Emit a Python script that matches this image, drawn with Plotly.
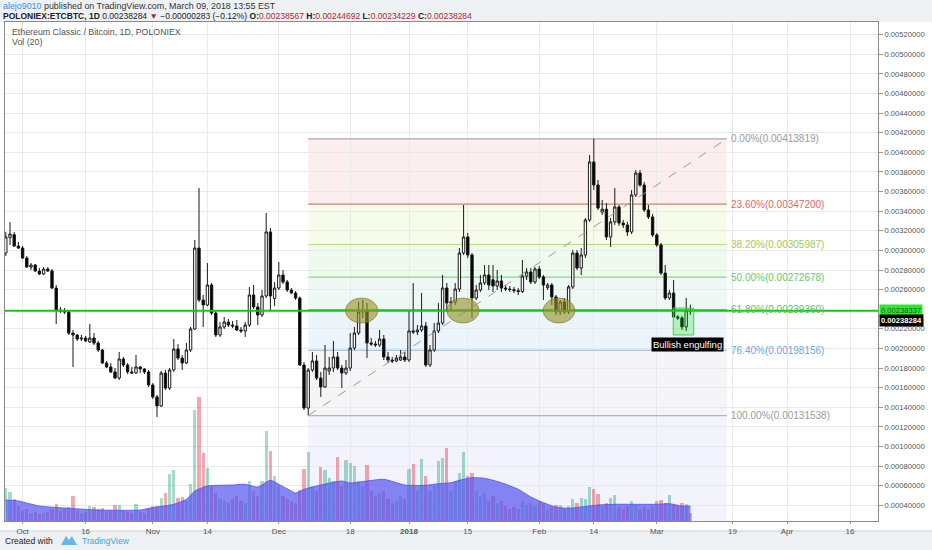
import pandas as pd
import plotly.graph_objects as go

# ---------------- data ----------------
dates = pd.date_range("2017-09-27", "2018-03-09", freq="D")

open_ = [
    0.002973, 0.003130, 0.003160, 0.003045, 0.003024, 0.002922, 0.002830, 0.002851, 0.002790, 0.002759,
    0.002810, 0.002790, 0.002616, 0.002392, 0.002382, 0.002372, 0.002157, 0.002137, 0.002096, 0.002106,
    0.002066, 0.002106, 0.002055, 0.001984, 0.001851, 0.001811, 0.001760, 0.001698, 0.001892, 0.001831,
    0.001760, 0.001750, 0.001811, 0.001790, 0.001760, 0.001627, 0.001505, 0.001413, 0.001749, 0.001596,
    0.001780, 0.001994, 0.001902, 0.001851, 0.001984, 0.002198, 0.003024, 0.002494, 0.002443, 0.002647,
    0.002361, 0.002137, 0.002219, 0.002270, 0.002239, 0.002229, 0.002188, 0.002178, 0.002239, 0.002545,
    0.002423, 0.002341, 0.002535, 0.003188, 0.002510, 0.002616, 0.002749, 0.002678, 0.002596, 0.002565,
    0.002514, 0.001831, 0.001392, 0.001780, 0.001872, 0.001698, 0.001607, 0.001770, 0.001800, 0.001913,
    0.001800, 0.001749, 0.001800, 0.002004, 0.002157, 0.002372, 0.002382, 0.002055, 0.002045, 0.002035,
    0.002096, 0.001913, 0.001882, 0.001872, 0.001882, 0.001913, 0.001882, 0.002178, 0.002168, 0.002188,
    0.002229, 0.001831, 0.001984, 0.002178, 0.002259, 0.002616, 0.002463, 0.002474, 0.002606, 0.002973,
    0.003137, 0.002953, 0.002514, 0.002596, 0.002667, 0.002749, 0.002700, 0.002637, 0.002688, 0.002616,
    0.002606, 0.002600, 0.002590, 0.002580, 0.002739, 0.002780, 0.002678, 0.002810, 0.002729, 0.002620,
    0.002647, 0.002525, 0.002372, 0.002474, 0.002372, 0.002627, 0.002973, 0.002820, 0.002953, 0.003310,
    0.003902, 0.003667, 0.003390, 0.003420, 0.003137, 0.003290, 0.003443, 0.003279, 0.003259, 0.003188,
    0.003565, 0.003789, 0.003667, 0.003412, 0.003341, 0.003157, 0.003055, 0.002769, 0.002514, 0.002565,
    0.002321, 0.002310, 0.002219, 0.00238567,
]
high = [
    0.003188, 0.003290, 0.003188, 0.003086, 0.003045, 0.002943, 0.002871, 0.002861, 0.002820, 0.002830,
    0.002830, 0.002810, 0.002647, 0.002423, 0.002412, 0.002392, 0.002188, 0.002147, 0.002137, 0.002127,
    0.002249, 0.002157, 0.002076, 0.001994, 0.001872, 0.001851, 0.001800, 0.001964, 0.001913, 0.001851,
    0.001811, 0.001933, 0.001821, 0.001800, 0.001780, 0.001647, 0.001525, 0.001770, 0.001780, 0.001800,
    0.002096, 0.002045, 0.001933, 0.002055, 0.002219, 0.003106, 0.003636, 0.002545, 0.002871, 0.002667,
    0.002382, 0.002270, 0.002321, 0.002300, 0.002280, 0.002290, 0.002219, 0.002270, 0.002627, 0.002647,
    0.002463, 0.002596, 0.003381, 0.003228, 0.002678, 0.002882, 0.002800, 0.002698, 0.002616, 0.002586,
    0.002530, 0.001862, 0.001800, 0.001964, 0.001933, 0.001760, 0.002035, 0.001913, 0.002076, 0.001964,
    0.001831, 0.001882, 0.002157, 0.002219, 0.002474, 0.002494, 0.002463, 0.002106, 0.002076, 0.002188,
    0.002137, 0.001964, 0.001913, 0.001933, 0.001984, 0.001964, 0.002392, 0.002667, 0.002239, 0.002565,
    0.002270, 0.002035, 0.002259, 0.002463, 0.002749, 0.002667, 0.002525, 0.002667, 0.003024, 0.003463,
    0.003177, 0.002973, 0.002647, 0.002749, 0.002851, 0.002851, 0.002851, 0.002800, 0.002749, 0.002647,
    0.002637, 0.002627, 0.002616, 0.002902, 0.002820, 0.002820, 0.002830, 0.002841, 0.002749, 0.002667,
    0.002667, 0.002545, 0.002494, 0.002514, 0.002647, 0.003004, 0.003004, 0.003024, 0.003330, 0.003973,
    0.00413819, 0.003718, 0.003514, 0.003483, 0.003330, 0.003636, 0.003463, 0.003310, 0.003290, 0.003616,
    0.003820, 0.003820, 0.003698, 0.003463, 0.003371, 0.003177, 0.003075, 0.002851, 0.002596, 0.002698,
    0.002341, 0.002331, 0.002514, 0.00244692,
]
low = [
    0.002943, 0.003055, 0.003035, 0.003014, 0.002912, 0.002820, 0.002800, 0.002780, 0.002749, 0.002749,
    0.002780, 0.002606, 0.002249, 0.002361, 0.002351, 0.002137, 0.001811, 0.002076, 0.002076, 0.002066,
    0.002055, 0.002035, 0.001964, 0.001841, 0.001800, 0.001749, 0.001688, 0.001678, 0.001811, 0.001739,
    0.001739, 0.001740, 0.001749, 0.001739, 0.001607, 0.001484, 0.001301, 0.001403, 0.001576, 0.001576,
    0.001760, 0.001882, 0.001780, 0.001841, 0.001964, 0.002188, 0.002474, 0.002219, 0.002430, 0.002341,
    0.002117, 0.002117, 0.002198, 0.002219, 0.002208, 0.002178, 0.002157, 0.002117, 0.002219, 0.002402,
    0.002239, 0.002321, 0.002514, 0.002392, 0.002433, 0.002596, 0.002657, 0.002576, 0.002555, 0.002494,
    0.001821, 0.001372, 0.00131538, 0.001760, 0.001678, 0.001505, 0.001597, 0.001729, 0.001760, 0.001780,
    0.001596, 0.001729, 0.001770, 0.001984, 0.002137, 0.002310, 0.001902, 0.002025, 0.002015, 0.002015,
    0.001882, 0.001851, 0.001851, 0.001862, 0.001872, 0.001862, 0.001862, 0.002147, 0.002137, 0.002168,
    0.001811, 0.001811, 0.001964, 0.002157, 0.002239, 0.002372, 0.002392, 0.002443, 0.002576, 0.002953,
    0.002922, 0.002310, 0.002494, 0.002576, 0.002647, 0.002596, 0.002576, 0.002596, 0.002576, 0.002586,
    0.002576, 0.002565, 0.002545, 0.002565, 0.002698, 0.002657, 0.002657, 0.002708, 0.002494, 0.002596,
    0.002443, 0.002341, 0.002341, 0.002351, 0.002351, 0.002606, 0.002800, 0.002749, 0.002922, 0.003290,
    0.003616, 0.003412, 0.003361, 0.003106, 0.003035, 0.003259, 0.003249, 0.003228, 0.003147, 0.003167,
    0.003545, 0.003647, 0.003392, 0.003320, 0.003137, 0.003035, 0.002749, 0.002494, 0.002494, 0.002310,
    0.002290, 0.002188, 0.002178, 0.00234229,
]
close = [
    0.003137, 0.003167, 0.003045, 0.003024, 0.002922, 0.002830, 0.002851, 0.002790, 0.002759, 0.002810,
    0.002790, 0.002616, 0.002392, 0.002382, 0.002372, 0.002157, 0.002137, 0.002096, 0.002106, 0.002076,
    0.002106, 0.002055, 0.001984, 0.001851, 0.001811, 0.001760, 0.001698, 0.001892, 0.001831, 0.001760,
    0.001750, 0.001811, 0.001790, 0.001760, 0.001627, 0.001505, 0.001413, 0.001749, 0.001596, 0.001780,
    0.001994, 0.001902, 0.001851, 0.001984, 0.002198, 0.003024, 0.002494, 0.002443, 0.002647, 0.002361,
    0.002137, 0.002219, 0.002270, 0.002239, 0.002229, 0.002188, 0.002178, 0.002239, 0.002545, 0.002423,
    0.002341, 0.002535, 0.003188, 0.002535, 0.002616, 0.002749, 0.002678, 0.002596, 0.002565, 0.002514,
    0.001831, 0.001392, 0.001780, 0.001872, 0.001698, 0.001607, 0.001800, 0.001800, 0.001913, 0.001800,
    0.001749, 0.001800, 0.002004, 0.002157, 0.002372, 0.002382, 0.002055, 0.002045, 0.002035, 0.002096,
    0.001913, 0.001882, 0.001872, 0.001902, 0.001913, 0.001882, 0.002178, 0.002168, 0.002188, 0.002229,
    0.001831, 0.001984, 0.002178, 0.002259, 0.002616, 0.002463, 0.002474, 0.002606, 0.002973, 0.003137,
    0.002953, 0.002514, 0.002596, 0.002667, 0.002749, 0.002647, 0.002637, 0.002688, 0.002616, 0.002606,
    0.002600, 0.002590, 0.002580, 0.002739, 0.002780, 0.002678, 0.002810, 0.002729, 0.002647, 0.002647,
    0.002525, 0.002372, 0.002474, 0.002372, 0.002627, 0.002973, 0.002820, 0.002953, 0.003310, 0.003902,
    0.003667, 0.003432, 0.003420, 0.003137, 0.003290, 0.003443, 0.003279, 0.003259, 0.003188, 0.003565,
    0.003789, 0.003667, 0.003412, 0.003341, 0.003157, 0.003055, 0.002769, 0.002514, 0.002565, 0.002321,
    0.002310, 0.002219, 0.00238567, 0.00238284,
]
volume = [
    330, 290, 220, 150, 100, 120, 80, 90, 70, 80,
    90, 120, 170, 100, 120, 140, 250, 100, 80, 90,
    150, 140, 120, 130, 100, 110, 160, 160, 100, 90,
    80, 170, 90, 80, 120, 150, 150, 230, 280, 470,
    510, 230, 240, 200, 370, 1110, 1240, 680, 530, 350,
    280, 220, 200, 180, 220, 250, 200, 180, 400, 300,
    250, 400, 900, 700, 450, 350, 250, 220, 200, 180,
    310, 520, 690, 350, 300, 540, 510, 430, 400, 640,
    350, 610, 580, 550, 400, 350, 560, 300, 250, 280,
    300, 220, 180, 200, 250, 220, 520, 570, 300, 620,
    450, 300, 350, 600, 630, 730, 300, 400, 480, 690,
    450, 480, 300, 250, 280, 200, 250, 180, 200, 150,
    120, 140, 120, 200, 160, 180, 150, 200, 180, 120,
    140, 160, 160, 120, 150, 220, 180, 230, 220, 340,
    320, 270, 150, 180, 230, 260, 140, 120, 150, 200,
    160, 120, 140, 120, 150, 200, 210, 180, 260, 170,
    160, 180, 170, 80,
]
vol_ma_dates = [
    "2017-09-27", "2017-09-30", "2017-10-05", "2017-10-12", "2017-10-19",
    "2017-10-29", "2017-10-31", "2017-11-06", "2017-11-09", "2017-11-11",
    "2017-11-14", "2017-11-20", "2017-11-23", "2017-11-26", "2017-11-29",
    "2017-12-01", "2017-12-04", "2017-12-05", "2017-12-07", "2017-12-10",
    "2017-12-16", "2017-12-18", "2017-12-22", "2017-12-26", "2017-12-31",
    "2018-01-05", "2018-01-08", "2018-01-11", "2018-01-13", "2018-01-16",
    "2018-01-19", "2018-01-23", "2018-01-27", "2018-01-30", "2018-02-02",
    "2018-02-05", "2018-02-08", "2018-02-11", "2018-02-15", "2018-02-19",
    "2018-02-24", "2018-03-01", "2018-03-04", "2018-03-07", "2018-03-09",
]
vol_ma = [
    210, 200, 150, 127, 110, 110, 127, 167, 217, 300,
    350, 360, 367, 340, 407, 367, 300, 280, 317, 350,
    400, 380, 400, 417, 360, 357, 373, 383, 407, 433,
    427, 383, 317, 240, 183, 140, 127, 140, 160, 167,
    167, 167, 173, 150, 150,
]

price_ticks = [0.0004, 0.0006, 0.0008, 0.0010, 0.0012, 0.0014, 0.0016, 0.0018, 0.0020,
               0.0022, 0.0026, 0.0028, 0.0030, 0.0032, 0.0034, 0.0036, 0.0038, 0.0040,
               0.0042, 0.0044, 0.0046, 0.0048, 0.0050, 0.0052]
date_ticks = ["2017-10-01", "2017-10-16", "2017-11-01", "2017-11-14", "2017-12-01", "2017-12-18",
              "2018-01-01", "2018-01-15", "2018-02-01", "2018-02-14", "2018-03-01", "2018-03-19",
              "2018-04-01", "2018-04-16"]
date_tick_labels = ["Oct", "16", "Nov", "14", "Dec", "18", "<b>2018</b>", "15", "Feb", "14", "Mar",
                    "19", "Apr", "16"]

fib_ratios = [0.0, 0.236, 0.382, 0.5, 0.618, 0.764, 1.0]
fib_prices = [0.00413819, 0.00347200, 0.00305987, 0.00272678, 0.00239360, 0.00198156, 0.00131538]
hline_price = 0.00238337

# ---------------- layout geometry / styles ----------------
W, H = 932, 550
ML, MR, MT, MB = 5, 54, 22, 29
PW, PH = W - ML - MR, H - MT - MB
X_RANGE = ["2017-09-26 19:26", "2018-04-22 16:00"]
Y_RANGE = [0.0002398, 0.0053295]
FONT = "Liberation Sans, Arial, sans-serif"


def px(xp):
    return (xp - ML) / PW


def py(yp):
    return (H - MB - yp) / PH


fib_start = "2017-12-08"
fib_end = "2018-03-17 16:00"
fib_line_colors = ["#a8a8a8", "#c8807a", "#bcd882", "#86d886", "#3cb95a", "#93b7d4", "#b4b4b4"]
fib_text_colors = ["#9a9a9a", "#e06868", "#a6c850", "#66cc66", "#5cbf5c", "#6aa8d8", "#9a9a9a"]
fib_fill_colors = ["rgba(240,90,90,0.10)", "rgba(190,225,90,0.13)", "rgba(120,210,120,0.12)",
                   "rgba(90,200,160,0.10)", "rgba(110,170,230,0.12)", "rgba(160,160,175,0.10)"]

fig = go.Figure()

up_col = "rgba(0,150,100,0.35)"
dn_col = "rgba(230,60,80,0.45)"
vol_colors = [up_col if c >= o else dn_col for o, c in zip(open_, close)]

fig.add_trace(go.Bar(
    x=dates, y=volume, yaxis="y2", marker=dict(color=vol_colors, line=dict(width=0)),
    width=0.72 * 86400000, hoverinfo="skip", showlegend=False))
fig.add_trace(go.Scatter(
    x=pd.to_datetime(vol_ma_dates), y=vol_ma, yaxis="y2", mode="lines",
    line=dict(color="rgba(80,80,235,0.8)", width=1, shape="spline", smoothing=0.6),
    fill="tozeroy", fillcolor="rgba(88,88,240,0.72)", hoverinfo="skip", showlegend=False))

fig.add_trace(go.Candlestick(
    x=dates, open=open_, high=high, low=low, close=close,
    increasing=dict(line=dict(color="#1a1a1a", width=1), fillcolor="#ffffff"),
    decreasing=dict(line=dict(color="#1a1a1a", width=1), fillcolor="#000000"),
    whiskerwidth=0, showlegend=False, hoverinfo="skip"))

shapes = []
# white chart panel
shapes.append(dict(type="rect", xref="paper", yref="paper", x0=px(0), x1=px(W), y0=py(531), y1=py(22),
                   fillcolor="#ffffff", line=dict(width=0), layer="below"))
# footer separator
shapes.append(dict(type="line", xref="paper", yref="paper", x0=px(0), x1=px(W), y0=py(531), y1=py(531),
                   line=dict(color="#c9ced3", width=1), layer="below"))
# fib fills
for i in range(len(fib_prices) - 1):
    shapes.append(dict(type="rect", xref="x", yref="y", x0=fib_start, x1=fib_end,
                       y0=fib_prices[i + 1], y1=fib_prices[i], fillcolor=fib_fill_colors[i],
                       line=dict(width=0), layer="below"))
shapes.append(dict(type="rect", xref="x", yref="y domain", x0=fib_start, x1=fib_end,
                   y0=0, y1=(fib_prices[-1] - Y_RANGE[0]) / (Y_RANGE[1] - Y_RANGE[0]),
                   fillcolor="rgba(120,120,230,0.09)", line=dict(width=0), layer="below"))
# fib lines
for i, p in enumerate(fib_prices):
    shapes.append(dict(type="line", xref="x", yref="y", x0=fib_start, x1=fib_end, y0=p, y1=p,
                       line=dict(color=fib_line_colors[i], width=1.2), layer="between"))
# diagonal of the fib tool
shapes.append(dict(type="line", xref="x", yref="y", x0=fib_start, x1=fib_end,
                   y0=fib_prices[-1], y1=fib_prices[0],
                   line=dict(color="#9a9a9a", width=1, dash="dash"), layer="above"))
# support line
shapes.append(dict(type="line", xref="paper", yref="y", x0=0, x1=1, y0=hline_price, y1=hline_price,
                   line=dict(color="#18c418", width=2), layer="above"))
# ellipses
for x0, x1 in [("2017-12-16 21:00", "2017-12-24 14:00"),
               ("2018-01-10 00:00", "2018-01-17 17:00"),
               ("2018-02-01 22:00", "2018-02-09 12:00")]:
    shapes.append(dict(type="circle", xref="x", yref="y", x0=x0, x1=x1, y0=0.002259, y1=0.002514,
                       fillcolor="rgba(150,145,40,0.62)", line=dict(color="rgba(120,118,30,0.6)", width=1),
                       layer="above"))
# bullish engulfing box
shapes.append(dict(type="rect", xref="x", yref="y", x0="2018-03-04 22:00", x1="2018-03-09 19:00",
                   y0=0.002137, y1=0.002412, fillcolor="rgba(0,230,0,0.25)",
                   line=dict(color="rgba(70,205,70,1)", width=1), layer="above"))
# footer logo
lx = [61, 66, 69, 72, 77]
shapes.append(dict(type="path", xref="paper", yref="paper",
                   path=f"M {px(lx[0])},{py(545)} L {px(lx[1])},{py(536)} L {px(lx[2])},{py(540)} "
                        f"L {px(lx[3])},{py(536)} L {px(lx[4])},{py(545)} Z",
                   fillcolor="#63b9e8", line=dict(width=0)))

annotations = []
for r, p, col in zip(fib_ratios, fib_prices, fib_text_colors):
    annotations.append(dict(x=fib_end, y=p, xref="x", yref="y", xanchor="left", yanchor="middle",
                            xshift=2, text=f"{r * 100:.2f}%({p:.8f})", showarrow=False,
                            font=dict(family=FONT, size=10, color=col)))

annotations.append(dict(x="2018-03-08 05:00", y=0.002045, xref="x", yref="y", text="Bullish engulfing",
                        showarrow=False, bgcolor="#000000", borderpad=1,
                        font=dict(family=FONT, size=9.5, color="#ffffff")))

# axis price labels
annotations.append(dict(x=1, y=hline_price, xref="paper", yref="y", xanchor="left", yanchor="middle",
                        xshift=1, text=f"{hline_price:.8f}", showarrow=False, bgcolor="#2ee82e",
                        borderpad=1, font=dict(family=FONT, size=7.6, color="#0d5a0d")))
annotations.append(dict(x=1, y=close[-1], xref="paper", yref="y", xanchor="left", yanchor="middle",
                        xshift=1, yshift=-10, text=f"<b>{close[-1]:.8f}</b>", showarrow=False,
                        bgcolor="#000000", borderpad=1, font=dict(family=FONT, size=7.6, color="#ffffff")))

# header
chg = close[-1] - close[-2]
pct = chg / close[-2] * 100
red = "#b3262b"
line1 = ('<span style="color:#3a8ee6">alejo9010</span> published on TradingView.com, '
         'March 09, 2018 13:55 EST')
line2 = (f'<b>POLONIEX:ETCBTC, 1D</b> {close[-1]:.8f} <span style="color:{red}">▼</span> '
         f'\u2212{abs(chg):.8f} (\u2212{abs(pct):.2f}%) '
         f'<b>O:</b><span style="color:{red}">{open_[-1]:.8f}</span> '
         f'<b>H:</b><span style="color:{red}">{high[-1]:.8f}</span> '
         f'<b>L:</b><span style="color:{red}">{low[-1]:.8f}</span> '
         f'<b>C:</b><span style="color:{red}">{close[-1]:.8f}</span>')
annotations.append(dict(x=px(1), y=py(6), xref="paper", yref="paper", xanchor="left", yanchor="middle",
                        text=line1, showarrow=False, font=dict(family=FONT, size=8.9, color="#333333")))
annotations.append(dict(x=px(1), y=py(16), xref="paper", yref="paper", xanchor="left", yanchor="middle",
                        text=line2, showarrow=False, font=dict(family=FONT, size=8.5, color="#222222")))
annotations.append(dict(x=px(10), y=py(32), xref="paper", yref="paper", xanchor="left", yanchor="middle",
                        text="Ethereum Classic / Bitcoin, 1D, POLONIEX", showarrow=False,
                        font=dict(family=FONT, size=8.8, color="#555555")))
annotations.append(dict(x=px(10), y=py(42), xref="paper", yref="paper", xanchor="left", yanchor="middle",
                        text="Vol (20)", showarrow=False, font=dict(family=FONT, size=8.8, color="#555555")))
# footer
annotations.append(dict(x=px(3), y=py(541), xref="paper", yref="paper", xanchor="left", yanchor="middle",
                        text="Created with", showarrow=False, font=dict(family=FONT, size=8.5, color="#222222")))
annotations.append(dict(x=px(80), y=py(541), xref="paper", yref="paper", xanchor="left", yanchor="middle",
                        text="TradingView", showarrow=False, font=dict(family=FONT, size=8.5, color="#3aa3dc")))

fig.update_layout(
    width=W, height=H, margin=dict(l=ML, r=MR, t=MT, b=MB),
    paper_bgcolor="#eef1f4", plot_bgcolor="#ffffff",
    showlegend=False, bargap=0, boxgap=0.2, hovermode=False,
    shapes=shapes, annotations=annotations,
    xaxis=dict(type="date", range=X_RANGE, tickvals=date_ticks, ticktext=date_tick_labels,
               showgrid=True, gridcolor="#e9e9e9", gridwidth=1, ticks="outside", ticklen=2,
               tickcolor="#999999", showline=True, linecolor="#8a8a8a", linewidth=1, mirror=True,
               tickfont=dict(family=FONT, size=8, color="#555555"), rangeslider=dict(visible=False),
               zeroline=False, fixedrange=True),
    yaxis=dict(range=Y_RANGE, side="right", tickvals=price_ticks, tickformat=".8f",
               showgrid=True, gridcolor="#e9e9e9", gridwidth=1, ticks="outside", ticklen=4,
               tickcolor="#999999", showline=True, linecolor="#8a8a8a", linewidth=1, mirror=True,
               tickfont=dict(family=FONT, size=7.6, color="#555555"), zeroline=False, fixedrange=True,
               automargin=False),
    yaxis2=dict(range=[0, 4990], overlaying="y", visible=False, fixedrange=True),
)

fig.write_html("out.html", config={"displayModeBar": False},
               post_script="document.body.style.margin='0';document.body.style.padding='0';")
